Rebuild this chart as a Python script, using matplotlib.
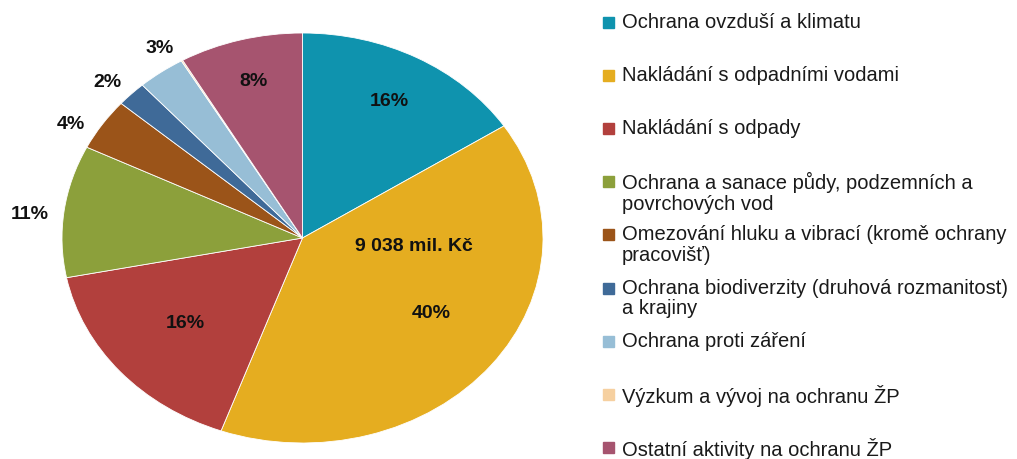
import numpy as np
import matplotlib.pyplot as plt

plt.rcParams['font.family'] = ['Liberation Sans', 'DejaVu Sans']

categories = ['Ochrana ovzduší a klimatu',
              'Nakládání s odpadními vodami',
              'Nakládání s odpady',
              'Ochrana a sanace půdy, podzemních a\npovrchových vod',
              'Omezování hluku a vibrací (kromě ochrany\npracovišť)',
              'Ochrana biodiverzity (druhová rozmanitost)\na krajiny',
              'Ochrana proti záření',
              'Výzkum a vývoj na ochranu ŽP',
              'Ostatní aktivity na ochranu ŽP']
shares = [15.8, 39.7, 16.4, 10.4, 4.1, 2.0, 3.2, 0.1, 8.3]
pct_labels = ['16%', '40%', '16%', '11%', '4%', '2%', '3%', '', '8%']
colors = ['#0f93ae', '#e5ad20', '#b2403d', '#8ca03b', '#9b5419',
          '#3f6a98', '#97bed6', '#f6d0a0', '#a6546f']
total_label = '9 038 mil. Kč'

fig = plt.figure(figsize=(10.17, 4.59), dpi=100)
W, H = 1017, 459
ax = fig.add_axes([62 / W, 16 / H, 481 / W, 410 / H])
wedges, _ = ax.pie(shares, colors=colors, startangle=90, counterclock=False,
                   radius=1, wedgeprops=dict(edgecolor='white', linewidth=0.6))
ax.set_aspect('auto')
ax.set_xlim(-1, 1)
ax.set_ylim(-1, 1)
ax.axis('off')

# label radius and angle shift (deg) per slice
rfac = [0.76, 0.65, 0.64, 1.14, 1.11, 1.11, 1.10, 1.0, 0.79]
shift = [0, 4, 0, 1.7, 3.8, 1.5, -3.4, 0, 0]
for w, lab, r, s in zip(wedges, pct_labels, rfac, shift):
    if not lab:
        continue
    a = np.deg2rad((w.theta1 + w.theta2) / 2 + s)
    ax.text(r * np.cos(a), r * np.sin(a), lab, ha='center', va='center',
            fontsize=14, fontweight='bold', color='#111111')
ax.text(0.465, -0.04, total_label, ha='center', va='center',
        fontsize=14, fontweight='bold', color='#111111')

# legend drawn as fixed slots
for i, (name, c) in enumerate(zip(categories, colors)):
    y = 22.5 + i * 53.2
    fig.patches.append(plt.Rectangle((603 / W, 1 - (y + 5) / H), 11 / W, 11 / H,
                                     transform=fig.transFigure, color=c))
    fig.text(622 / W, 1 - (y - 10) / H, name, ha='left', va='top',
             fontsize=14.5, color='#1a1a1a', linespacing=1.1)

fig.savefig('out.png', dpi=100)
